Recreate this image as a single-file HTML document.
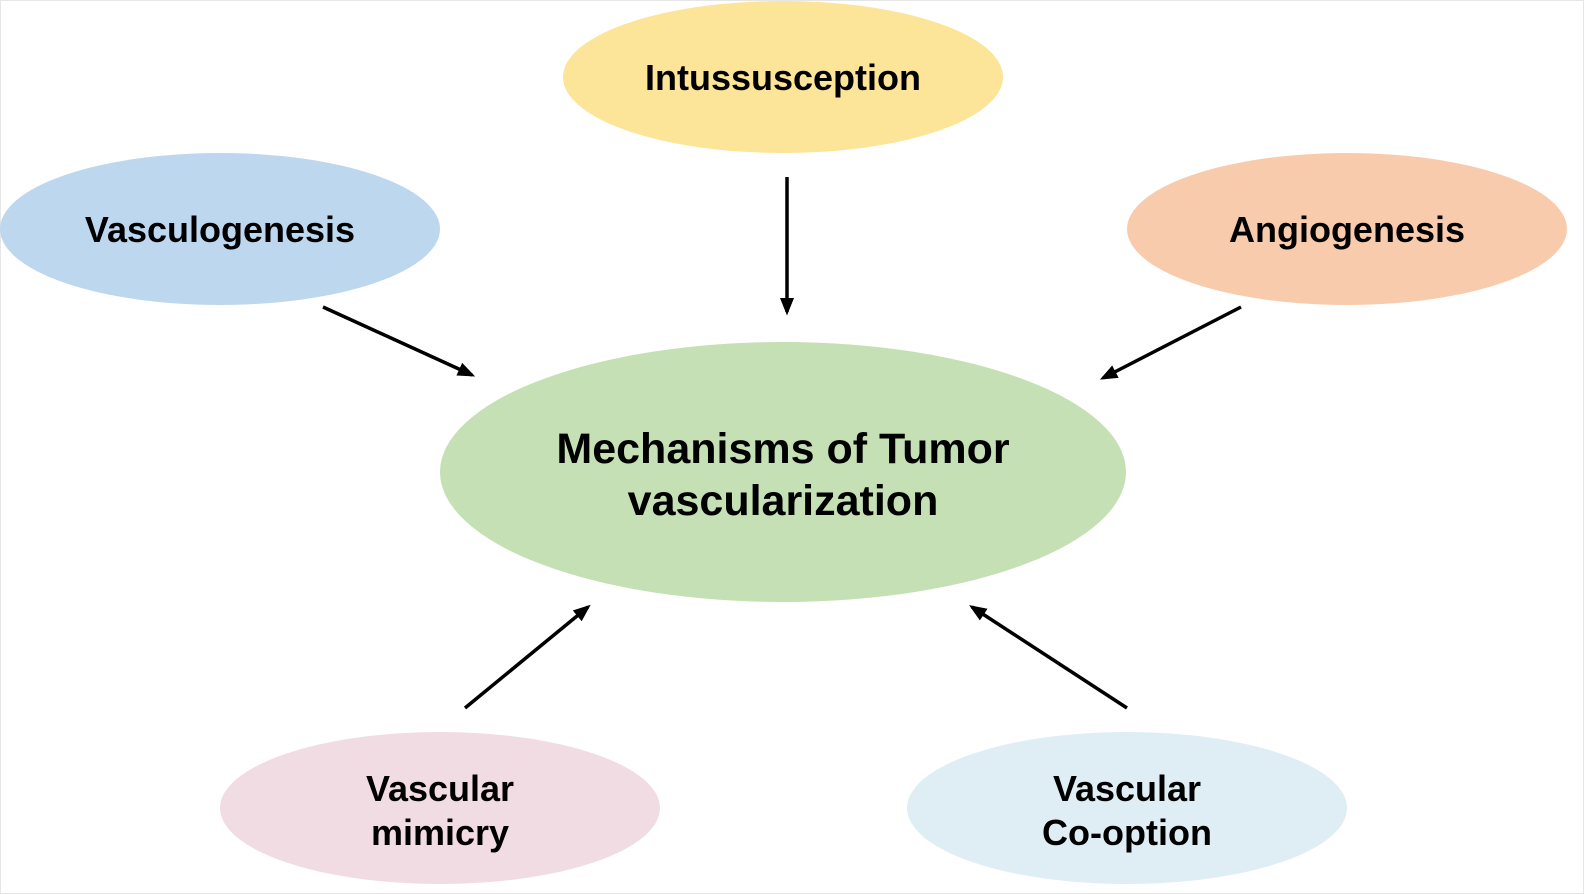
<!DOCTYPE html>
<html><head><meta charset="utf-8"><style>
html,body{margin:0;padding:0;background:#fff;}
svg{display:block;}
text{font-family:"Liberation Sans",Arial,sans-serif;font-weight:bold;fill:#000;text-anchor:middle;}
</style></head><body>
<svg width="1584" height="894" viewBox="0 0 1584 894" xmlns="http://www.w3.org/2000/svg">
<defs>
<marker id="ah" markerWidth="5" markerHeight="4" refX="4" refY="2" orient="auto" markerUnits="strokeWidth">
<path d="M0,0 L5,2 L0,4 Z" fill="#000"/>
</marker>
</defs>
<rect x="0.5" y="0.5" width="1583" height="893" fill="#fff" stroke="#e6e6e6"/>
<ellipse cx="783" cy="77" rx="220" ry="76" fill="#FCE498"/>
<ellipse cx="220" cy="229" rx="220" ry="76" fill="#BDD7EE"/>
<ellipse cx="1347" cy="229" rx="220" ry="76" fill="#F8CBAD"/>
<ellipse cx="783" cy="472" rx="343" ry="130" fill="#C5E0B4"/>
<ellipse cx="440" cy="808" rx="220" ry="76" fill="#F2DCE4"/>
<ellipse cx="1127" cy="808" rx="220" ry="76" fill="#DEEEF4"/>
<g stroke="#000" stroke-width="3.5" marker-end="url(#ah)">
<line x1="787" y1="177" x2="787" y2="312"/>
<line x1="323" y1="307" x2="472" y2="375"/>
<line x1="1241" y1="307" x2="1103" y2="378"/>
<line x1="465" y1="708" x2="588" y2="607"/>
<line x1="1127" y1="708" x2="972" y2="607"/>
</g>
<text x="783" y="90" font-size="36">Intussusception</text>
<text x="220" y="242" font-size="36">Vasculogenesis</text>
<text x="1347" y="242" font-size="36">Angiogenesis</text>
<text x="783" y="463" font-size="43">Mechanisms of Tumor</text>
<text x="783" y="515" font-size="43">vascularization</text>
<text x="440" y="801" font-size="36">Vascular</text>
<text x="440" y="845" font-size="36">mimicry</text>
<text x="1127" y="801" font-size="36">Vascular</text>
<text x="1127" y="845" font-size="36">Co-option</text>
</svg>
</body></html>
